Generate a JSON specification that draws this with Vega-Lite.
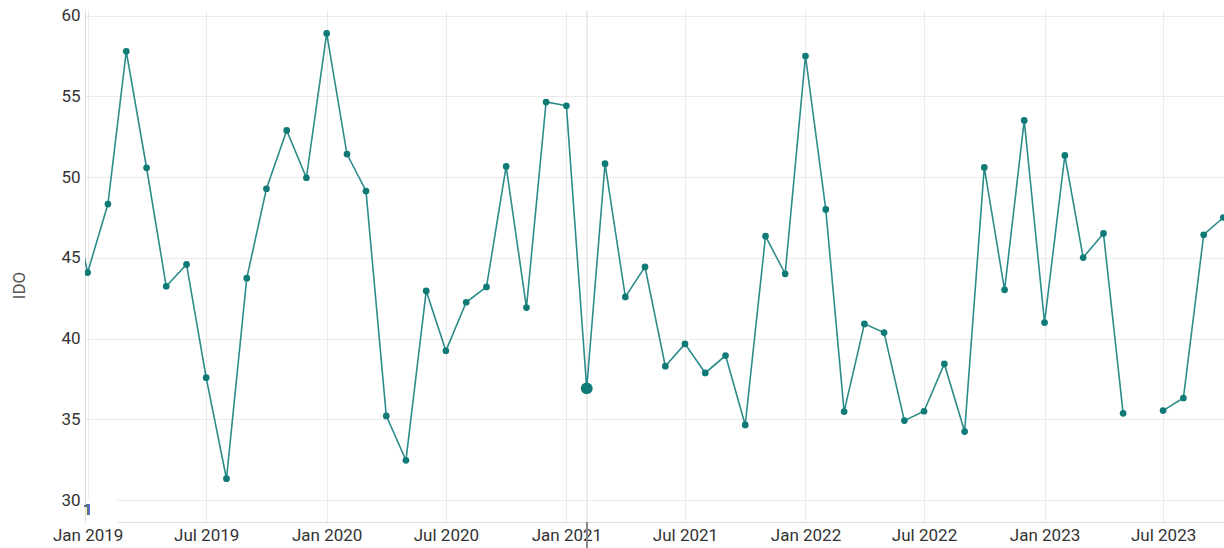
{
  "$schema": "https://vega.github.io/schema/vega-lite/v6.json",
  "width": 1139,
  "height": 512,
  "autosize": {"type": "none"},
  "padding": {"left": 85, "top": 10, "right": 0, "bottom": 26},
  "background": "white",
  "config": {
    "view": {"stroke": null},
    "font": "Roboto",
    "axis": {
      "labelFont": "Roboto",
      "titleFont": "Roboto",
      "gridColor": "#ebebeb",
      "gridWidth": 1,
      "domainColor": "#dddddd",
      "ticks": false,
      "labelColor": "#333333",
      "labelFontSize": 17
    }
  },
  "data": {
    "values": [
      {"date": "2018-12-01", "ido": 50.0, "hl": false},
      {"date": "2019-01-01", "ido": 44.09, "hl": false},
      {"date": "2019-02-01", "ido": 48.33, "hl": false},
      {"date": "2019-03-01", "ido": 57.79, "hl": false},
      {"date": "2019-04-01", "ido": 50.58, "hl": false},
      {"date": "2019-05-01", "ido": 43.24, "hl": false},
      {"date": "2019-06-01", "ido": 44.59, "hl": false},
      {"date": "2019-07-01", "ido": 37.58, "hl": false},
      {"date": "2019-08-01", "ido": 31.32, "hl": false},
      {"date": "2019-09-01", "ido": 43.74, "hl": false},
      {"date": "2019-10-01", "ido": 49.28, "hl": false},
      {"date": "2019-11-01", "ido": 52.89, "hl": false},
      {"date": "2019-12-01", "ido": 49.96, "hl": false},
      {"date": "2020-01-01", "ido": 58.9, "hl": false},
      {"date": "2020-02-01", "ido": 51.43, "hl": false},
      {"date": "2020-03-01", "ido": 49.14, "hl": false},
      {"date": "2020-04-01", "ido": 35.21, "hl": false},
      {"date": "2020-05-01", "ido": 32.46, "hl": false},
      {"date": "2020-06-01", "ido": 42.95, "hl": false},
      {"date": "2020-07-01", "ido": 39.24, "hl": false},
      {"date": "2020-08-01", "ido": 42.25, "hl": false},
      {"date": "2020-09-01", "ido": 43.2, "hl": false},
      {"date": "2020-10-01", "ido": 50.66, "hl": false},
      {"date": "2020-11-01", "ido": 41.92, "hl": false},
      {"date": "2020-12-01", "ido": 54.65, "hl": false},
      {"date": "2021-01-01", "ido": 54.42, "hl": false},
      {"date": "2021-02-01", "ido": 36.92, "hl": true},
      {"date": "2021-03-01", "ido": 50.83, "hl": false},
      {"date": "2021-04-01", "ido": 42.58, "hl": false},
      {"date": "2021-05-01", "ido": 44.44, "hl": false},
      {"date": "2021-06-01", "ido": 38.29, "hl": false},
      {"date": "2021-07-01", "ido": 39.67, "hl": false},
      {"date": "2021-08-01", "ido": 37.87, "hl": false},
      {"date": "2021-09-01", "ido": 38.95, "hl": false},
      {"date": "2021-10-01", "ido": 34.65, "hl": false},
      {"date": "2021-11-01", "ido": 46.34, "hl": false},
      {"date": "2021-12-01", "ido": 44.01, "hl": false},
      {"date": "2022-01-01", "ido": 57.5, "hl": false},
      {"date": "2022-02-01", "ido": 48.0, "hl": false},
      {"date": "2022-03-01", "ido": 35.48, "hl": false},
      {"date": "2022-04-01", "ido": 40.91, "hl": false},
      {"date": "2022-05-01", "ido": 40.37, "hl": false},
      {"date": "2022-06-01", "ido": 34.92, "hl": false},
      {"date": "2022-07-01", "ido": 35.5, "hl": false},
      {"date": "2022-08-01", "ido": 38.43, "hl": false},
      {"date": "2022-09-01", "ido": 34.24, "hl": false},
      {"date": "2022-10-01", "ido": 50.6, "hl": false},
      {"date": "2022-11-01", "ido": 43.02, "hl": false},
      {"date": "2022-12-01", "ido": 53.51, "hl": false},
      {"date": "2023-01-01", "ido": 40.99, "hl": false},
      {"date": "2023-02-01", "ido": 51.34, "hl": false},
      {"date": "2023-03-01", "ido": 45.02, "hl": false},
      {"date": "2023-04-01", "ido": 46.51, "hl": false},
      {"date": "2023-05-01", "ido": 35.37, "hl": false},
      {"date": "2023-06-01", "ido": null, "hl": false},
      {"date": "2023-07-01", "ido": 35.54, "hl": false},
      {"date": "2023-08-01", "ido": 36.32, "hl": false},
      {"date": "2023-09-01", "ido": 46.43, "hl": false},
      {"date": "2023-10-01", "ido": 47.5, "hl": false}
    ]
  },
  "encoding": {
    "x": {
      "field": "date",
      "type": "temporal",
      "scale": {
        "type": "utc",
        "domain": [
          {"year": 2018, "month": 12, "date": 28, "utc": true},
          {"year": 2023, "month": 10, "date": 2, "utc": true}
        ]
      },
      "axis": {
        "title": null,
        "format": "%b %Y",
        "tickCount": {"interval": "month", "step": 6},
        "labelPadding": 5,
        "labelFlush": false,
        "labelOverlap": false
      }
    },
    "y": {
      "field": "ido",
      "type": "quantitative",
      "scale": {"domain": [28.64, 60.35], "nice": false, "zero": false},
      "axis": {
        "title": "IDO",
        "values": [30, 35, 40, 45, 50, 55, 60],
        "labelPadding": 5,
        "titleFontSize": 17,
        "titleFontWeight": "normal",
        "titleColor": "#555555",
        "titleX": -66,
        "titleY": 275,
        "titleBaseline": "middle"
      }
    }
  },
  "layer": [
    {
      "mark": {"type": "rule", "color": "#ebebeb", "strokeWidth": 1},
      "encoding": {
        "x": {"datum": {"year": 2021, "month": 2, "date": 1, "utc": true}},
        "y": {"datum": 60.35},
        "y2": {"datum": 28.64}
      }
    },
    {
      "mark": {"type": "rule", "color": "#888888", "strokeWidth": 1, "clip": false},
      "encoding": {
        "x": {"datum": {"year": 2021, "month": 2, "date": 1, "utc": true}},
        "y": {"datum": 28.64},
        "y2": {"datum": 27.0}
      }
    },
    {
      "mark": {"type": "rect", "color": "white", "clip": false},
      "encoding": {
        "x": {"datum": {"year": 2018, "month": 12, "date": 30, "utc": true}},
        "x2": {"datum": {"year": 2019, "month": 2, "date": 15, "utc": true}},
        "y": {"datum": 28.55},
        "y2": {"datum": 30.12}
      }
    },
    {
      "mark": {"type": "text", "text": "1", "fontSize": 15, "color": "#5a6f8c", "align": "center", "baseline": "middle", "font": "Roboto"},
      "encoding": {
        "x": {"datum": {"year": 2019, "month": 1, "date": 1, "utc": true}},
        "y": {"datum": 29.4}
      }
    },
    {
      "mark": {"type": "line", "color": "#2b8c8a", "strokeWidth": 1.6, "clip": true}
    },
    {
      "transform": [{"filter": "isValid(datum.ido) && utcyear(datum.date) >= 2019"}],
      "mark": {"type": "circle", "color": "#0f7a76", "opacity": 1, "clip": true},
      "encoding": {
        "size": {"condition": {"test": "datum.hl", "value": 140}, "value": 45}
      }
    }
  ]
}
